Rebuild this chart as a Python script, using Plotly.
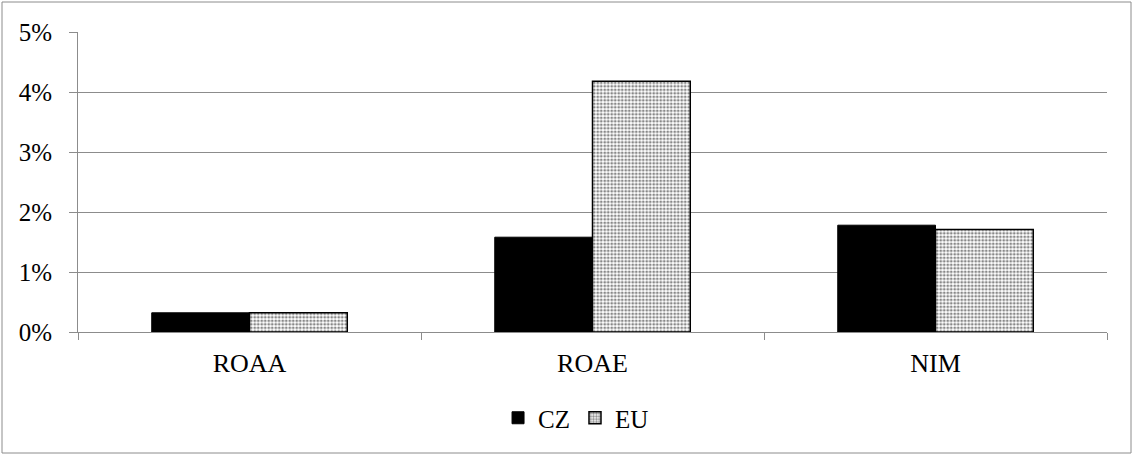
import plotly.graph_objects as go

categories = ["ROAA", "ROAE", "NIM"]
cz_values = [0.0032, 0.0158, 0.0178]
eu_values = [0.0032, 0.0418, 0.0171]
y_ticks = [0, 0.01, 0.02, 0.03, 0.04, 0.05]
y_tick_labels = ["0%", "1%", "2%", "3%", "4%", "5%"]

W, H = 1137, 455
L, R, T, B = 78, 30, 32, 123
pw, ph = W - L - R, H - T - B

def px(x):
    return (x - L) / pw

def py(y):
    return (H - B - y) / ph

fig = go.Figure()
fig.add_trace(go.Bar(
    name="CZ", x=categories, y=cz_values,
    marker=dict(color="black", line=dict(color="black", width=1)),
))
fig.add_trace(go.Bar(
    name="EU", x=categories, y=eu_values,
    marker=dict(
        color="white",
        line=dict(color="black", width=1.5),
        pattern=dict(shape=".", fgcolor="#111111", bgcolor="white", size=3.5, solidity=0.5),
    ),
))

yfont = dict(family="Liberation Serif", size=25, color="black")
xfont = dict(family="Liberation Serif", size=26, color="black")
lfont = dict(family="Liberation Serif", size=25, color="black")

fig.update_layout(
    width=W, height=H,
    margin=dict(l=L, r=R, t=T, b=B),
    paper_bgcolor="white", plot_bgcolor="white",
    barmode="group", bargap=0.43, bargroupgap=0,
    font=yfont,
    showlegend=True,
    legend=dict(orientation="h", x=0.484, xanchor="center", y=py(418), yanchor="middle",
                font=lfont, itemwidth=30, traceorder="normal"),
    xaxis=dict(
        showline=True, linecolor="#8c8c8c", linewidth=1,
        ticks="outside", tickson="boundaries", ticklen=7, tickcolor="#8c8c8c",
        showgrid=False, tickfont=xfont, ticklabelstandoff=8,
    ),
    yaxis=dict(
        range=[0, 0.05], tickvals=y_ticks, ticktext=y_tick_labels,
        showline=True, linecolor="#8c8c8c", linewidth=1,
        ticks="outside", ticklen=8, tickcolor="#8c8c8c",
        showgrid=True, gridcolor="#8c8c8c", gridwidth=1,
        zeroline=False, tickfont=yfont, ticklabelstandoff=12,
    ),
    shapes=[dict(type="rect", xref="paper", yref="paper",
                 x0=px(2), x1=px(1131), y0=py(453), y1=py(2),
                 line=dict(color="#8c8c8c", width=1), layer="below")],
)

fig.write_html("out.html", config={"displayModeBar": False},
               post_script="document.body.style.margin='0';")
